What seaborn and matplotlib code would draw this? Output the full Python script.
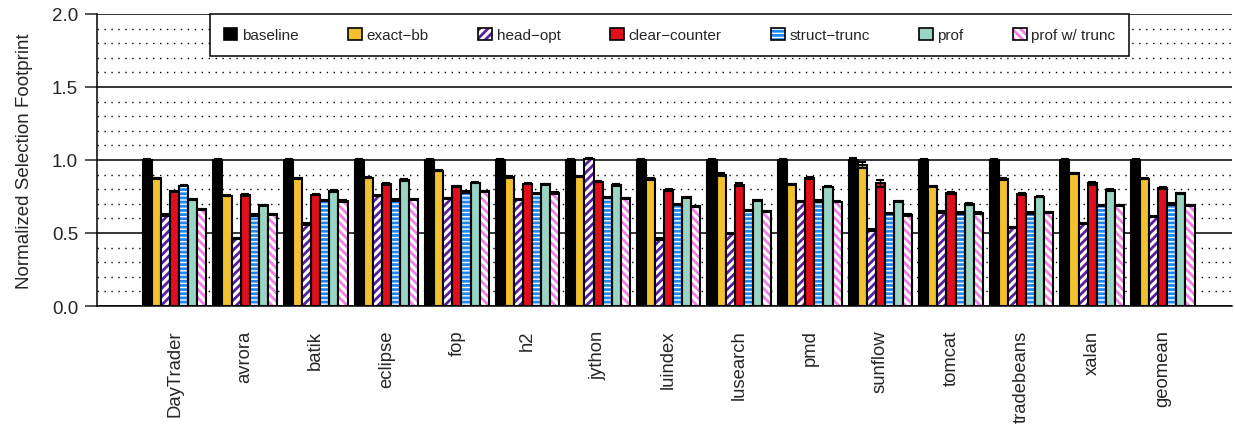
import matplotlib
matplotlib.use("Agg")
import matplotlib.pyplot as plt
from matplotlib.patches import Patch, Rectangle
from matplotlib.ticker import MultipleLocator, FormatStrFormatter
import pandas as pd
import seaborn as sns

benchmarks = ["DayTrader", "avrora", "batik", "eclipse", "fop", "h2", "jython",
              "luindex", "lusearch", "pmd", "sunflow", "tomcat", "tradebeans",
              "xalan", "geomean"]
configs = ["baseline", "exact\u2212bb", "head\u2212opt", "clear\u2212counter",
           "struct\u2212trunc", "prof", "prof w/ trunc"]

baseline = [1.0] * 15
exact_bb = [0.875, 0.756, 0.875, 0.879, 0.927, 0.884, 0.886, 0.870, 0.900, 0.833,
            0.966, 0.820, 0.870, 0.909, 0.872]
head_opt = [0.623, 0.464, 0.562, 0.756, 0.738, 0.728, 1.010, 0.459, 0.495, 0.715,
            0.520, 0.644, 0.539, 0.566, 0.612]
clear_counter = [0.785, 0.760, 0.762, 0.836, 0.820, 0.838, 0.852, 0.795, 0.831,
                 0.877, 0.840, 0.774, 0.767, 0.840, 0.808]
struct_trunc = [0.824, 0.623, 0.724, 0.726, 0.781, 0.770, 0.744, 0.694, 0.655,
                0.719, 0.632, 0.637, 0.637, 0.690, 0.699]
prof = [0.731, 0.690, 0.788, 0.863, 0.845, 0.833, 0.829, 0.744, 0.724, 0.817,
        0.717, 0.699, 0.749, 0.795, 0.772]
prof_trunc = [0.662, 0.628, 0.719, 0.731, 0.785, 0.774, 0.738, 0.683, 0.648,
              0.715, 0.623, 0.637, 0.642, 0.690, 0.690]

# small measurement errors (mostly tiny)
err_baseline = [0.005] * 9 + [0.005, 0.012, 0.005, 0.005, 0.005, 0.005]
err_exact = [0.005] * 8 + [0.012, 0.005, 0.022, 0.005, 0.005, 0.005, 0.005]
err_head = [0.005] * 15
err_clear = [0.005] * 8 + [0.008, 0.005, 0.025, 0.005, 0.005, 0.008, 0.005]
err_struct = [0.005] * 15
err_prof = [0.005] * 15
err_ptrunc = [0.005] * 8 + [0.005, 0.005, 0.01, 0.005, 0.005, 0.005, 0.005]

series = [baseline, exact_bb, head_opt, clear_counter, struct_trunc, prof, prof_trunc]
errors = [err_baseline, err_exact, err_head, err_clear, err_struct, err_prof, err_ptrunc]

face_colors = ["#000000", "#F2C12E", "#FFFFFF", "#E00F1B", "#FFFFFF", "#98D5C5", "#FFFFFF"]
hatch_colors = [None, None, "#5B1F9E", None, "#1E88F0", None, "#F080E8"]
hatches = [None, None, "////", None, "----", None, "\\\\\\\\"]

rows = []
for cfg, vals in zip(configs, series):
    for b, v in zip(benchmarks, vals):
        rows.append({"benchmark": b, "config": cfg, "value": v})
df = pd.DataFrame(rows)

sns.set_style("white")
plt.rcParams["font.family"] = ["Liberation Sans", "DejaVu Sans"]
plt.rcParams["hatch.linewidth"] = 2.0

fig = plt.figure(figsize=(12.35, 4.27), dpi=100)
ax = fig.add_axes([0.0785, 0.281, 0.919, 0.684])

sns.barplot(data=df, x="benchmark", y="value", hue="config", order=benchmarks,
            hue_order=configs, palette=face_colors, errorbar=None, width=0.9,
            saturation=1, ax=ax, legend=False, zorder=3)

bar_containers = list(ax.containers)
for i, cont in enumerate(bar_containers):
    xs, hs = [], []
    for p in cont.patches:
        p.set_facecolor(face_colors[i])
        if hatches[i]:
            p.set_hatch(hatches[i])
            p.set_edgecolor(hatch_colors[i])
            p.set_linewidth(0)
            ax.add_patch(Rectangle(p.get_xy(), p.get_width(), p.get_height(),
                                   fill=False, ec="black", lw=1.5, zorder=4))
        else:
            p.set_edgecolor("black")
            p.set_linewidth(1.5)
        xs.append(p.get_x() + p.get_width() / 2)
        hs.append(p.get_height())
    ax.errorbar(xs, hs, yerr=errors[i], fmt="none", ecolor="black", elinewidth=1,
                capsize=3, capthick=1.5, zorder=5)

ax.set_xlim(-1.1, 14.98)
ax.set_ylim(0, 2.0)
ax.yaxis.set_major_locator(MultipleLocator(0.5))
ax.yaxis.set_minor_locator(MultipleLocator(0.1))
ax.yaxis.set_major_formatter(FormatStrFormatter("%.1f"))
ax.grid(axis="y", which="major", color="black", linewidth=1.1, linestyle="-", zorder=0)
ax.grid(axis="y", which="minor", color="black", linewidth=1.0, linestyle=(0, (1, 4)), zorder=0)
ax.grid(axis="x", visible=False)
ax.set_axisbelow(True)

for s in ["top", "right"]:
    ax.spines[s].set_visible(False)
for s in ["left", "bottom"]:
    ax.spines[s].set_color("black")
    ax.spines[s].set_linewidth(1.1)

ax.tick_params(axis="y", which="major", direction="out", length=8.5, width=1.1,
               labelsize=13.5, left=True, pad=5)
ax.tick_params(axis="y", which="minor", length=0)
ax.tick_params(axis="x", length=0, labelsize=13.3, pad=17)
plt.setp(ax.get_xticklabels(), rotation=90, ha="center", va="top")
ax.set_xlabel("")
ax.set_ylabel("Normalized Selection Footprint", fontsize=13.5, labelpad=14)

handles = []
for i in range(7):
    if hatches[i]:
        h = (Patch(facecolor=face_colors[i], edgecolor=hatch_colors[i], hatch=hatches[i], lw=0),
             Patch(facecolor="none", edgecolor="black", lw=1.2))
    else:
        h = Patch(facecolor=face_colors[i], edgecolor="black", lw=1.2)
    handles.append(h)

leg = ax.legend(handles, configs, ncol=7, loc="lower left", mode="expand",
                bbox_to_anchor=(0.0996, 0.856, 0.81, 0.144), fontsize=11,
                handlelength=0.9, handleheight=0.9, handletextpad=0.3,
                borderaxespad=0, fancybox=False, framealpha=1, edgecolor="black",
                borderpad=0.9)
leg.get_frame().set_linewidth(1.1)
leg.set_zorder(10)

fig.savefig("out.png", dpi=100)
